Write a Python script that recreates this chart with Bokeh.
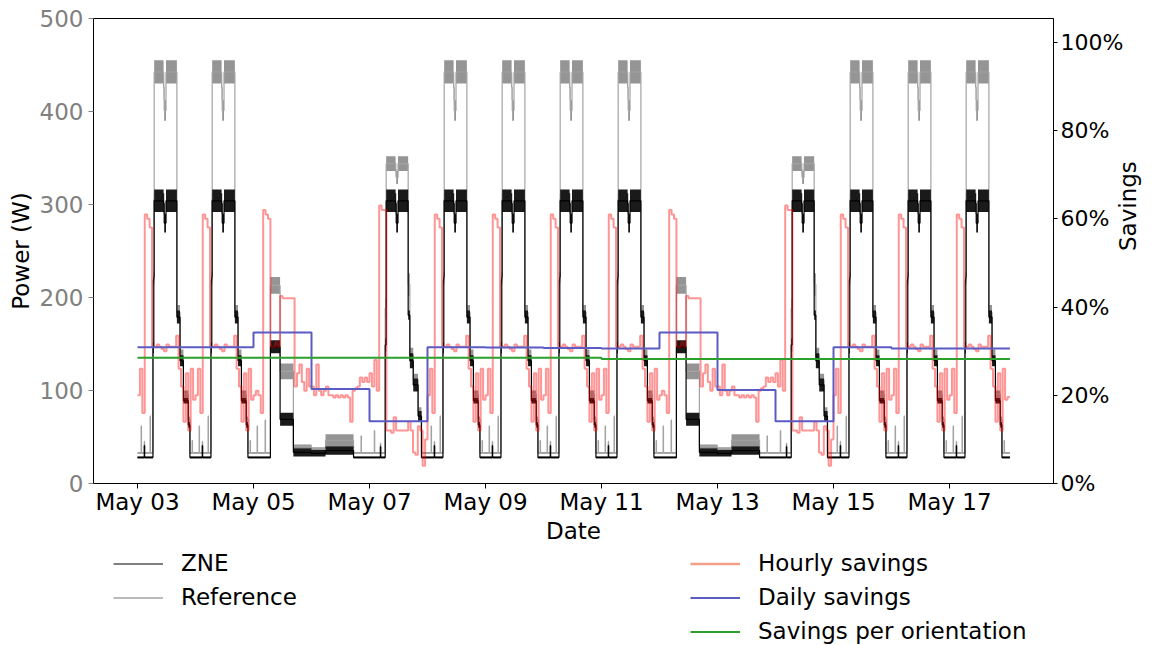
import math
import numpy as np
import pandas as pd
from bokeh.plotting import figure
from bokeh.layouts import column
from bokeh.models import (Range1d, LinearAxis, FixedTicker, DatetimeTickFormatter,
                          NumeralTickFormatter, Legend, LegendItem)
from bokeh.embed import file_html
from bokeh.resources import INLINE

# ---------------- data ----------------
START = "2018-05-03"
# one entry per day, May 03 .. May 18 (last day only partly recorded)
DAY_TYPES = ["wd", "wd", "sat", "sun", "mon", "wd", "wd", "wd", "wd",
             "sat", "sun", "mon", "wd", "wd", "wd", "end"]
END_DAY_HOURS = 1.0

# power segments: (start hour, ZNE low, ZNE high, Reference low, Reference high) in W
WEEKDAY_POWER = [
    (0.0, 27, 29, 32, 34), (1.5, 27, 29, 60, 63), (1.65, 27, 29, 32, 34),
    (2.8, 39, 42, 44, 46), (2.95, 27, 29, 32, 34), (5.2, 27, 29, 70, 74),
    (5.35, 27, 29, 32, 34), (6.4, 140, 152, 212, 225), (6.75, 215, 228, 300, 312),
    (6.9, 292, 316, 430, 455), (10.8, 290, 312, 412, 440), (11.05, 270, 290, 390, 412),
    (11.8, 292, 316, 430, 455), (16.3, 172, 186, 176, 192), (17.6, 126, 138, 130, 144),
    (19.0, 86, 92, 92, 100), (21.0, 60, 66, 66, 72), (21.7, 27, 29, 32, 34),
    (22.6, 27, 29, 45, 47), (22.75, 27, 29, 32, 34),
]
MONDAY_POWER = [
    (0.0, 27, 29, 32, 34), (2.0, 27, 29, 55, 58), (2.15, 27, 29, 32, 34),
    (4.5, 38, 41, 42, 44), (4.65, 27, 29, 32, 34), (6.5, 142, 156, 178, 199),
    (6.9, 292, 316, 336, 352), (10.8, 290, 312, 330, 345), (11.05, 270, 290, 322, 336),
    (11.8, 292, 316, 336, 352), (16.0, 176, 186, 202, 226), (16.7, 124, 140, 130, 146),
    (18.1, 99, 113, 104, 118), (20.1, 67, 78, 72, 82), (21.5, 27, 29, 32, 34),
]
SATURDAY_POWER = [
    (0.0, 27, 29, 32, 34), (1.5, 27, 29, 60, 63), (1.65, 27, 29, 32, 34),
    (4.8, 27, 29, 66, 70), (4.95, 27, 29, 32, 34),
    (7.0, 140, 154, 204, 222), (11.0, 62, 76, 112, 129), (16.5, 29, 38, 38, 42),
]
SUNDAY_POWER = [
    (0.0, 29, 36, 36, 39), (5.8, 31, 40, 40, 53), (17.4, 27, 29, 32, 34),
    (20.5, 27, 29, 50, 52), (20.65, 27, 29, 32, 34),
]
END_POWER = [(0.0, 27, 29, 32, 34)]

# hourly savings (fraction), one value per hour
WEEKDAY_SAVINGS = [0.20, 0.26, 0.16, 0.61, 0.60, 0.58, 0.31, 0.31, 0.315, 0.31, 0.305, 0.30,
                   0.315, 0.31, 0.31, 0.31, 0.335, 0.26, 0.22, 0.14, 0.25, 0.12, 0.26, 0.19]
MONDAY_SAVINGS = [0.25, 0.22, 0.28, 0.21, 0.63, 0.62, 0.62, 0.12, 0.12, 0.115, 0.15, 0.12,
                  0.12, 0.12, 0.12, 0.12, 0.14, 0.12, 0.07, 0.065, 0.13, 0.12, 0.04, 0.10]
SATURDAY_SAVINGS = [0.20, 0.21, 0.20, 0.16, 0.62, 0.61, 0.60, 0.31, 0.31, 0.32, 0.31, 0.425,
                    0.42, 0.42, 0.42, 0.42, 0.42, 0.22, 0.25, 0.27, 0.23, 0.21, 0.26, 0.22]
SUNDAY_SAVINGS = [0.22, 0.20, 0.27, 0.21, 0.20, 0.21, 0.22, 0.20, 0.20, 0.195, 0.20, 0.195,
                  0.20, 0.195, 0.20, 0.195, 0.14, 0.21, 0.216, 0.22, 0.24, 0.23, 0.24, 0.23]
END_SAVINGS = [0.196]

DAILY_SAVINGS = [0.309, 0.309, 0.342, 0.214, 0.141, 0.309, 0.308, 0.307, 0.306,
                 0.342, 0.212, 0.141, 0.309, 0.306, 0.306, 0.306]
ORIENTATION_SAVINGS = [0.285] * 8 + [0.282] * 8

X_TICK_DATES = ["2018-05-03", "2018-05-05", "2018-05-07", "2018-05-09",
                "2018-05-11", "2018-05-13", "2018-05-15", "2018-05-17"]
POWER_TICKS = [0, 100, 200, 300, 400, 500]
SAVINGS_TICKS = [0.0, 0.2, 0.4, 0.6, 0.8, 1.0]

POWER = {"wd": WEEKDAY_POWER, "mon": MONDAY_POWER, "sat": SATURDAY_POWER,
         "sun": SUNDAY_POWER, "end": END_POWER}
SAVINGS = {"wd": WEEKDAY_SAVINGS, "mon": MONDAY_SAVINGS, "sat": SATURDAY_SAVINGS,
           "sun": SUNDAY_SAVINGS, "end": END_SAVINGS}

# ---------------- build step series ----------------
t0 = pd.Timestamp(START)


def to_time(hours):
    return t0 + pd.to_timedelta(np.asarray(hours, dtype=float), unit="h")


ph, zlo, zhi, rlo, rhi = [], [], [], [], []
for d, t in enumerate(DAY_TYPES):
    segs = POWER[t]
    length = END_DAY_HOURS if t == "end" else 24.0
    for i, (h0, a, b, c, e) in enumerate(segs):
        h1 = segs[i + 1][0] if i + 1 < len(segs) else length
        for h in (h0, h1):
            ph.append(24 * d + h)
            zlo.append(a); zhi.append(b); rlo.append(c); rhi.append(e)
ptime = to_time(ph)
zmid = [(a + b) / 2 for a, b in zip(zlo, zhi)]
rmid = [(a + b) / 2 for a, b in zip(rlo, rhi)]

sh, sv = [], []
for d, t in enumerate(DAY_TYPES):
    for k, v in enumerate(SAVINGS[t]):
        sh += [24 * d + k, 24 * d + k + 1]
        sv += [v, v]
stime = to_time(sh)

dh, dv, gv = [], [], []
n = len(DAILY_SAVINGS)
for d in range(n):
    length = END_DAY_HOURS if d == n - 1 else 24.0
    dh += [24 * d, 24 * d + length]
    dv += [DAILY_SAVINGS[d]] * 2
    gv += [ORIENTATION_SAVINGS[d]] * 2
dtime = to_time(dh)

# ---------------- styles ----------------
FONT = "DejaVu Sans"
FS = "23px"
C_REF_BAND, C_REF_LINE = "#959595", "#a3a3a3"
C_ZNE = "black"
C_HOURLY, C_HOURLY_LEG = "red", "#f4a088"
C_DAILY = "#5b5bc4"
C_ORIENT = "#2ca02c"

W = 1157
MAIN_H = 546
LEG_H = 645 - MAIN_H

x_start = t0 - pd.Timedelta(days=0.7586)
x_end = t0 + pd.Timedelta(days=15.793)

p = figure(width=W, height=MAIN_H, x_axis_type="datetime",
           x_range=Range1d(x_start, x_end), y_range=Range1d(0, 500),
           output_backend="svg", toolbar_location=None,
           min_border_left=93, min_border_right=104, min_border_top=18,
           min_border_bottom=MAIN_H - 486)
p.extra_y_ranges = {"sav": Range1d(0, 1.054)}
p.xgrid.visible = False
p.ygrid.visible = False
p.outline_line_color = "black"
p.outline_line_width = 1

# Reference
p.varea(x=ptime, y1=rlo, y2=rhi, fill_color=C_REF_BAND, fill_alpha=1.0)
p.line(ptime, rmid, line_color=C_REF_LINE, line_width=1.2)
# ZNE
p.varea(x=ptime, y1=zlo, y2=zhi, fill_color="#1a1a1a", fill_alpha=1.0)
p.line(ptime, zmid, line_color=C_ZNE, line_width=1.2)

p.line(stime, sv, line_color=C_HOURLY, line_alpha=0.42, line_width=2, y_range_name="sav")
p.line(dtime, dv, line_color=C_DAILY, line_width=2, y_range_name="sav")
p.line(dtime, gv, line_color=C_ORIENT, line_width=2, y_range_name="sav")

# axes
xa = p.xaxis[0]
xa.ticker = FixedTicker(ticks=[pd.Timestamp(s).value // 10**6 for s in X_TICK_DATES])
fmt = "%b %d"
xa.formatter = DatetimeTickFormatter(days=fmt, hours=fmt, hourmin=fmt, months=fmt,
                                     minutes=fmt, years=fmt)
xa.axis_label = "Date"

ya = p.yaxis[0]
ya.ticker = FixedTicker(ticks=POWER_TICKS)
ya.axis_label = "Power (W)"

ra = LinearAxis(y_range_name="sav", ticker=FixedTicker(ticks=SAVINGS_TICKS),
                formatter=NumeralTickFormatter(format="0%"), axis_label="Savings")
p.add_layout(ra, "right")
ra.axis_label_orientation = math.pi / 2

for ax in (xa, ya, ra):
    ax.major_label_text_font = FONT
    ax.major_label_text_font_size = FS
    ax.axis_label_text_font = FONT
    ax.axis_label_text_font_size = FS
    ax.axis_label_text_font_style = "normal"
    ax.axis_label_text_color = "black"
    ax.major_label_text_color = "black"
    ax.minor_tick_line_color = None
    ax.major_tick_out = 5
    ax.major_tick_in = 0
    ax.axis_line_color = "black"
ya.major_label_text_color = "#808080"
ya.major_tick_line_color = "#808080"
ra.major_label_text_font_size = "22px"
ra.major_tick_out = 4
xa.major_label_standoff = 0
xa.axis_label_standoff = 0
ya.major_label_standoff = 5
ya.axis_label_standoff = 3
ra.major_label_standoff = 3
ra.axis_label_standoff = 2

# ---------------- legend strip (frame aligned with the main frame) ----------------
lf = figure(width=W, height=LEG_H, x_range=Range1d(0, 1), y_range=Range1d(0, 1),
            output_backend="svg", toolbar_location=None,
            min_border_left=0, min_border_right=0, min_border_top=0, min_border_bottom=0,
            x_axis_location=None, y_axis_location=None)
lf.xgrid.visible = False
lf.ygrid.visible = False
lf.outline_line_color = None

# same series, drawn outside this strip's visible range: they only lend their style
g_zne = lf.line(ptime, zmid, line_color=C_ZNE, line_width=1.2)
g_ref = lf.line(ptime, rmid, line_color=C_REF_LINE, line_width=1.5)
g_hour = lf.line(stime, sv, line_color=C_HOURLY_LEG, line_width=2.5)
g_day = lf.line(dtime, dv, line_color=C_DAILY, line_width=2)
g_ori = lf.line(dtime, gv, line_color=C_ORIENT, line_width=2)

legend_kw = dict(background_fill_alpha=0, border_line_alpha=0, padding=0, margin=0,
                 spacing=7, glyph_width=50, glyph_height=27, label_height=27,
                 label_standoff=18, label_text_font=FONT, label_text_font_size=FS,
                 label_text_color="black")
leg1 = Legend(items=[LegendItem(label="ZNE", renderers=[g_zne]),
                     LegendItem(label="Reference", renderers=[g_ref])],
              location=(20, LEG_H - 64.5), **legend_kw)
leg2 = Legend(items=[LegendItem(label="Hourly savings", renderers=[g_hour]),
                     LegendItem(label="Daily savings", renderers=[g_day]),
                     LegendItem(label="Savings per orientation", renderers=[g_ori])],
              location=(597, LEG_H - 98.5), **legend_kw)
lf.add_layout(leg1)
lf.add_layout(leg2)

layout = column(p, lf, spacing=0)
open("out.html", "w").write(file_html(layout, INLINE))
